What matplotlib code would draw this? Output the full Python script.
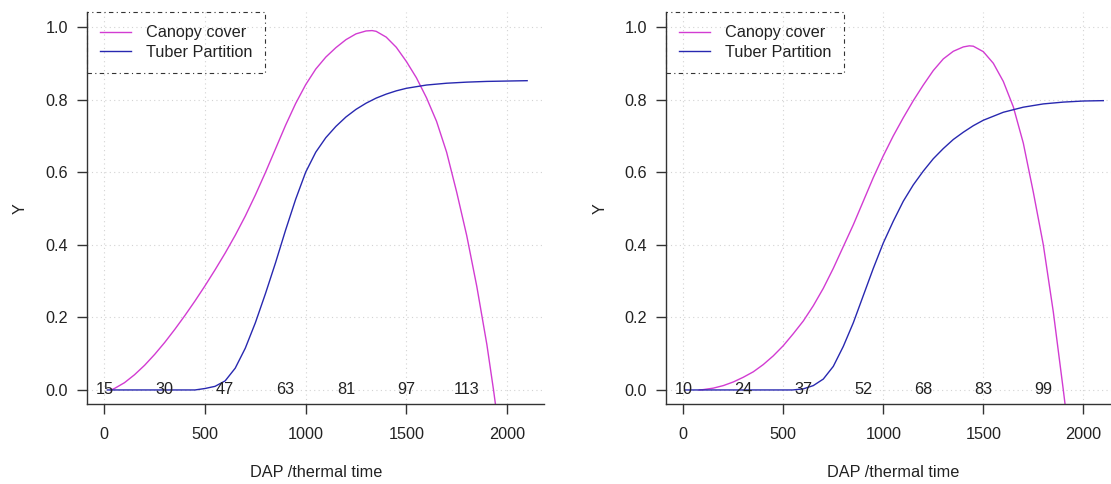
import matplotlib
matplotlib.use("Agg")
import matplotlib.pyplot as plt

plt.rcParams['font.family'] = ['Liberation Sans', 'DejaVu Sans']

# left panel (thermal time vs fraction)
left_canopy_x = [33, 50, 100, 150, 200, 250, 300, 350, 400, 450, 500, 550, 600, 650, 700, 750, 800,
                 850, 900, 950, 1000, 1050, 1100, 1150, 1200, 1250, 1300, 1330, 1350, 1400, 1450,
                 1500, 1550, 1600, 1650, 1700, 1750, 1800, 1850, 1900, 1933, 1950]
left_canopy_y = [0.0, 0.004, 0.02, 0.042, 0.068, 0.098, 0.131, 0.167, 0.205, 0.245, 0.287, 0.331, 0.377,
                 0.426, 0.479, 0.537, 0.599, 0.664, 0.729, 0.789, 0.841, 0.884, 0.917, 0.943, 0.965,
                 0.981, 0.989, 0.99, 0.988, 0.972, 0.944, 0.905, 0.86, 0.805, 0.74, 0.655, 0.545,
                 0.425, 0.285, 0.125, 0.0, -0.07]
left_tuber_x = [15, 450, 500, 550, 600, 650, 700, 750, 800, 850, 900, 950, 1000, 1050, 1100, 1150,
                1200, 1250, 1300, 1350, 1400, 1450, 1500, 1600, 1700, 1800, 1900, 2000, 2100]
left_tuber_y = [0.0, 0.0, 0.004, 0.01, 0.025, 0.06, 0.115, 0.185, 0.265, 0.35, 0.44, 0.525, 0.6, 0.655,
                0.695, 0.726, 0.752, 0.773, 0.79, 0.804, 0.815, 0.824, 0.831, 0.84, 0.845, 0.848,
                0.85, 0.851, 0.852]
left_dap = ['15', '30', '47', '63', '81', '97', '113']

# right panel
right_canopy_x = [80, 100, 150, 200, 250, 300, 350, 400, 450, 500, 550, 600, 650, 700, 750, 800, 850,
                  900, 950, 1000, 1050, 1100, 1150, 1200, 1250, 1300, 1350, 1400, 1430, 1450, 1500,
                  1550, 1600, 1650, 1700, 1750, 1800, 1850, 1900, 1910]
right_canopy_y = [0.0, 0.001, 0.005, 0.012, 0.022, 0.035, 0.05, 0.07, 0.094, 0.122, 0.155, 0.19, 0.232,
                  0.28, 0.335, 0.395, 0.455, 0.52, 0.585, 0.645, 0.7, 0.75, 0.797, 0.84, 0.88, 0.912,
                  0.933, 0.945, 0.948, 0.947, 0.932, 0.9, 0.85, 0.78, 0.68, 0.545, 0.4, 0.215, 0.0,
                  -0.045]
right_tuber_x = [10, 547, 600, 650, 700, 750, 800, 850, 900, 950, 1000, 1050, 1100, 1150, 1200, 1250,
                 1300, 1350, 1400, 1450, 1500, 1600, 1700, 1800, 1900, 2000, 2100]
right_tuber_y = [0.0, 0.0, 0.003, 0.012, 0.03, 0.065, 0.12, 0.185, 0.26, 0.335, 0.405, 0.465, 0.52,
                 0.565, 0.603, 0.637, 0.665, 0.69, 0.71, 0.728, 0.743, 0.765, 0.779, 0.788, 0.793,
                 0.796, 0.797]
right_dap = ['10', '24', '37', '52', '68', '83', '99']

dap_pos = [0, 300, 600, 900, 1200, 1500, 1800]

canopy_col = '#D23CD2'
tuber_col = '#2828B0'
axis_col = '#333333'
text_col = '#222222'
fs = 11.7


def draw_panel(ax, cx, cy, tx, ty, dap):
    for s in ['top', 'right']:
        ax.spines[s].set_visible(False)
    for s in ['left', 'bottom']:
        ax.spines[s].set_color(axis_col)
        ax.spines[s].set_linewidth(1.0)

    ax.set_xlim(-84, 2184)
    ax.set_ylim(-0.04, 1.04)

    for gx in [0, 500, 1000, 1500, 2000]:
        ax.axvline(gx, color='#D3D3D3', lw=0.8, ls=(0, (1, 3)), zorder=0)
    for gy in [0, 0.2, 0.4, 0.6, 0.8, 1.0]:
        ax.axhline(gy, color='#D3D3D3', lw=0.8, ls=(0, (1, 3)), zorder=0)

    ax.plot(cx, cy, color=canopy_col, lw=1.0, label='Canopy cover')
    ax.plot(tx, ty, color=tuber_col, lw=1.0, label='Tuber Partition')

    for xp, lab in zip(dap_pos, dap):
        ax.text(xp, 0, lab, ha='center', va='center', fontsize=fs, color=text_col)

    ax.set_xticks([0, 500, 1000, 1500, 2000])
    ax.set_yticks([0, 0.2, 0.4, 0.6, 0.8, 1.0])
    ax.set_yticklabels(['0.0', '0.2', '0.4', '0.6', '0.8', '1.0'])
    ax.tick_params(axis='x', direction='out', length=7, width=1, color=axis_col,
                   labelsize=fs, labelcolor=text_col, pad=9.5)
    ax.tick_params(axis='y', direction='out', length=7, width=1, color=axis_col,
                   labelsize=fs, labelcolor=text_col, pad=7)

    ax.set_xlabel('DAP /thermal time', fontsize=fs, color=text_col)
    ax.set_ylabel('Y', fontsize=fs, color=text_col)
    ax.xaxis.set_label_coords(0.5, -0.154)
    ax.yaxis.set_label_coords(-0.13, 0.5)

    leg = ax.legend(loc='upper left', bbox_to_anchor=(0, 1), borderaxespad=0,
                    fontsize=fs, handlelength=1.9, handletextpad=0.9, labelspacing=0.28,
                    borderpad=0.8, fancybox=False, framealpha=1)
    frame = leg.get_frame()
    frame.set_facecolor('none')
    frame.set_edgecolor(axis_col)
    frame.set_linewidth(0.8)
    frame.set_linestyle((0, (4, 3, 1, 3)))
    for t in leg.get_texts():
        t.set_color(text_col)


def main():
    fig = plt.figure(figsize=(11.11, 4.84), dpi=100)
    ax1 = fig.add_axes([0.0787, 0.1643, 0.411, 0.810])
    ax2 = fig.add_axes([0.5999, 0.1643, 0.4083, 0.810])
    draw_panel(ax1, left_canopy_x, left_canopy_y, left_tuber_x, left_tuber_y, left_dap)
    draw_panel(ax2, right_canopy_x, right_canopy_y, right_tuber_x, right_tuber_y, right_dap)
    fig.savefig('out.png', dpi=100)


if __name__ == "__main__":
    main()
